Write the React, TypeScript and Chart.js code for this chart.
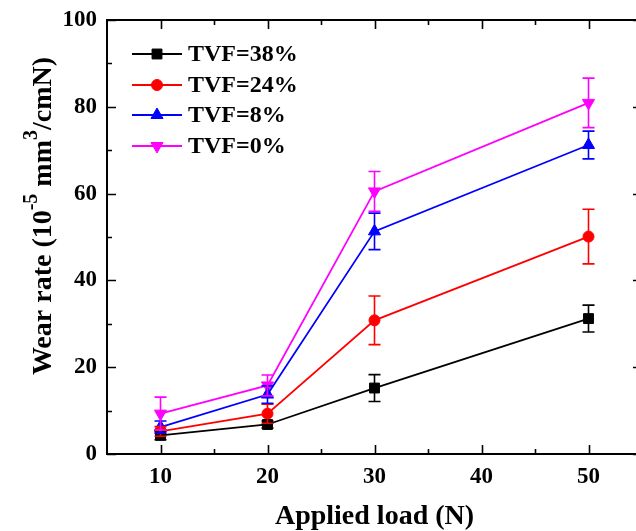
import React, { useEffect, useRef } from "react";
import { Chart, registerables } from "chart.js";

Chart.register(...registerables);

// Applied load (N)
const loads = [10, 20, 30, 50];

// Wear rate (10^-5 mm^3/cmN) and its error for each TVF level
const tvf38 = [4.3, 6.8, 15.2, 31.2];
const tvf38Err = [1.0, 0.8, 3.1, 3.1];
const tvf24 = [5.2, 9.3, 30.8, 50.1];
const tvf24Err = [1.1, 2.2, 5.6, 6.3];
const tvf8 = [6.2, 13.7, 51.3, 71.2];
const tvf8Err = [1.4, 2.0, 4.2, 3.2];
const tvf0 = [9.3, 15.8, 60.5, 80.9];
const tvf0Err = [3.8, 2.4, 4.6, 5.7];

const seriesLabels = ["TVF=38%", "TVF=24%", "TVF=8%", "TVF=0%"];

const xTicks = [10, 20, 30, 40, 50];
const xMinorTicks = [15, 25, 35, 45];
const yTicks = [0, 20, 40, 60, 80, 100];
const yMinorTicks = [10, 30, 50, 70, 90];

const FONT = "'Liberation Serif', 'Times New Roman', serif";

type Series = {
  label: string;
  values: number[];
  errors: number[];
  color: string;
  pointStyle: string;
  radius: number;
  rotation: number;
};

const series: Series[] = [
  { label: seriesLabels[0], values: tvf38, errors: tvf38Err, color: "#000000", pointStyle: "rect", radius: 7, rotation: 0 },
  { label: seriesLabels[1], values: tvf24, errors: tvf24Err, color: "#ff0000", pointStyle: "circle", radius: 5.5, rotation: 0 },
  { label: seriesLabels[2], values: tvf8, errors: tvf8Err, color: "#0000ff", pointStyle: "triangle", radius: 7, rotation: 0 },
  { label: seriesLabels[3], values: tvf0, errors: tvf0Err, color: "#ff00ff", pointStyle: "triangle", radius: 7, rotation: 180 },
];

// Marker used by the legend, same shapes as the line points
function drawMarker(ctx: CanvasRenderingContext2D, style: string, r: number, rot: number, x: number, y: number) {
  ctx.beginPath();
  if (style === "rect") {
    const h = r * Math.SQRT1_2;
    ctx.rect(x - h, y - h, 2 * h, 2 * h);
  } else if (style === "circle") {
    ctx.arc(x, y, r, 0, Math.PI * 2);
  } else {
    const dir = rot === 180 ? 1 : -1;
    const a = (r * Math.sqrt(3)) / 2;
    ctx.moveTo(x, y + dir * r);
    ctx.lineTo(x - a, y - dir * r * 0.5);
    ctx.lineTo(x + a, y - dir * r * 0.5);
    ctx.closePath();
  }
  ctx.fill();
  ctx.stroke();
}

// Vertical error bars with caps
const errorBarPlugin = {
  id: "errorBars",
  afterDatasetsDraw(chart: any) {
    const { ctx, scales } = chart;
    const xs = scales.x;
    const ys = scales.y;
    ctx.save();
    ctx.lineWidth = 1.6;
    chart.data.datasets.forEach((ds: any) => {
      ctx.strokeStyle = ds.borderColor;
      ds.data.forEach((pt: any, i: number) => {
        const e = ds.errors[i];
        const px = xs.getPixelForValue(pt.x);
        const top = ys.getPixelForValue(pt.y + e);
        const bot = ys.getPixelForValue(pt.y - e);
        ctx.beginPath();
        ctx.moveTo(px, top);
        ctx.lineTo(px, bot);
        ctx.moveTo(px - 6, top);
        ctx.lineTo(px + 6, top);
        ctx.moveTo(px - 6, bot);
        ctx.lineTo(px + 6, bot);
        ctx.stroke();
      });
    });
    ctx.restore();
  },
};

// Box frame with inward major and minor ticks
const framePlugin = {
  id: "frame",
  afterDraw(chart: any) {
    const { ctx, chartArea, scales } = chart;
    const { left, right, top, bottom } = chartArea;
    const xs = scales.x;
    const ys = scales.y;
    ctx.save();
    ctx.strokeStyle = "#000";
    ctx.lineWidth = 2;
    ctx.strokeRect(left, top, right - left, bottom - top);
    ctx.lineWidth = 1.6;
    ctx.beginPath();
    const xTick = (v: number, len: number) => {
      const px = Math.round(xs.getPixelForValue(v)) + 0.5;
      ctx.moveTo(px, bottom);
      ctx.lineTo(px, bottom - len);
      ctx.moveTo(px, top);
      ctx.lineTo(px, top + len);
    };
    const yTick = (v: number, len: number) => {
      const py = Math.round(ys.getPixelForValue(v)) + 0.5;
      ctx.moveTo(left, py);
      ctx.lineTo(left + len, py);
      ctx.moveTo(right, py);
      ctx.lineTo(right - len, py);
    };
    xTicks.forEach((v) => xTick(v, 9));
    xMinorTicks.forEach((v) => xTick(v, 5));
    yTicks.forEach((v) => yTick(v, 9));
    yMinorTicks.forEach((v) => yTick(v, 5));
    ctx.stroke();
    ctx.restore();
  },
};

// Rotated y-axis title with superscripts
const yTitlePlugin = {
  id: "yTitle",
  afterDraw(chart: any) {
    const { ctx } = chart;
    const big = `bold 28px ${FONT}`;
    const small = `bold 20px ${FONT}`;
    const parts: { t: string; f: string; dy: number }[] = [
      { t: "Wear rate (10", f: big, dy: 0 },
      { t: "-5", f: small, dy: -12 },
      { t: " mm", f: big, dy: 0 },
      { t: "3", f: small, dy: -12 },
      { t: "/cmN)", f: big, dy: 0 },
    ];
    ctx.save();
    let total = 0;
    parts.forEach((p) => {
      ctx.font = p.f;
      total += ctx.measureText(p.t).width;
    });
    ctx.translate(44, 216);
    ctx.rotate(-Math.PI / 2);
    ctx.fillStyle = "#000";
    ctx.textBaseline = "middle";
    ctx.textAlign = "left";
    let x = -total / 2;
    parts.forEach((p) => {
      ctx.font = p.f;
      ctx.fillText(p.t, x, p.dy);
      x += ctx.measureText(p.t).width;
    });
    ctx.restore();
  },
};

// Legend: line with marker, then label
const legendPlugin = {
  id: "lineLegend",
  afterDraw(chart: any) {
    const { ctx } = chart;
    const rows = [54, 85, 115, 146];
    ctx.save();
    series.forEach((s, i) => {
      const y = rows[i];
      ctx.strokeStyle = s.color;
      ctx.lineWidth = 1.8;
      ctx.beginPath();
      ctx.moveTo(132, y);
      ctx.lineTo(182, y);
      ctx.stroke();
      ctx.fillStyle = s.color;
      ctx.lineWidth = 1;
      drawMarker(ctx, s.pointStyle, s.radius, s.rotation, 157, y);
      ctx.fillStyle = "#000";
      ctx.font = `bold 24px ${FONT}`;
      ctx.textAlign = "left";
      ctx.textBaseline = "middle";
      ctx.fillText(s.label, 188, y + 1);
    });
    ctx.restore();
  },
};

export default function App() {
  const ref = useRef<HTMLCanvasElement | null>(null);

  useEffect(() => {
    if (!ref.current) return;
    const tickFont = { family: FONT, size: 23, weight: "bold" as const };
    const chart = new Chart(ref.current, {
      type: "line",
      data: {
        datasets: series.map((s) => ({
          label: s.label,
          data: loads.map((x, i) => ({ x, y: s.values[i] })),
          errors: s.errors,
          borderColor: s.color,
          backgroundColor: s.color,
          pointBackgroundColor: s.color,
          pointBorderColor: s.color,
          pointStyle: s.pointStyle,
          pointRadius: s.radius,
          pointRotation: s.rotation,
          pointBorderWidth: 1,
          borderWidth: 1.8,
          tension: 0,
          fill: false,
        })) as any,
      },
      options: {
        animation: false,
        responsive: false,
        devicePixelRatio: 1,
        layout: { padding: { top: 20, right: 5, left: 0, bottom: 0 } },
        plugins: {
          legend: { display: false },
          tooltip: { enabled: false },
        },
        scales: {
          x: {
            type: "linear",
            min: 5,
            max: 55,
            afterFit: (s: any) => {
              s.height = 77;
            },
            afterBuildTicks: (s: any) => {
              s.ticks = xTicks.map((v) => ({ value: v }));
            },
            grid: { display: false },
            border: { display: false },
            ticks: { font: tickFont, color: "#000", padding: 1, maxRotation: 0 },
            title: {
              display: true,
              text: "Applied load (N)",
              color: "#000",
              font: { family: FONT, size: 28, weight: "bold", lineHeight: 1 },
              padding: { top: 0, bottom: 0 },
            },
          },
          y: {
            type: "linear",
            min: 0,
            max: 100,
            afterFit: (s: any) => {
              s.width = 107;
            },
            afterBuildTicks: (s: any) => {
              s.ticks = yTicks.map((v) => ({ value: v }));
            },
            grid: { display: false },
            border: { display: false },
            ticks: { font: tickFont, color: "#000", padding: 2 },
          },
        },
      } as any,
      plugins: [errorBarPlugin, framePlugin, yTitlePlugin, legendPlugin],
    });
    return () => chart.destroy();
  }, []);

  return (
    <div
      style={{
        position: "absolute",
        left: 0,
        top: 0,
        width: 636,
        height: 531,
        overflow: "hidden",
        background: "#fff",
      }}
    >
      <canvas ref={ref} width={650} height={531} style={{ display: "block" }} />
    </div>
  );
}
